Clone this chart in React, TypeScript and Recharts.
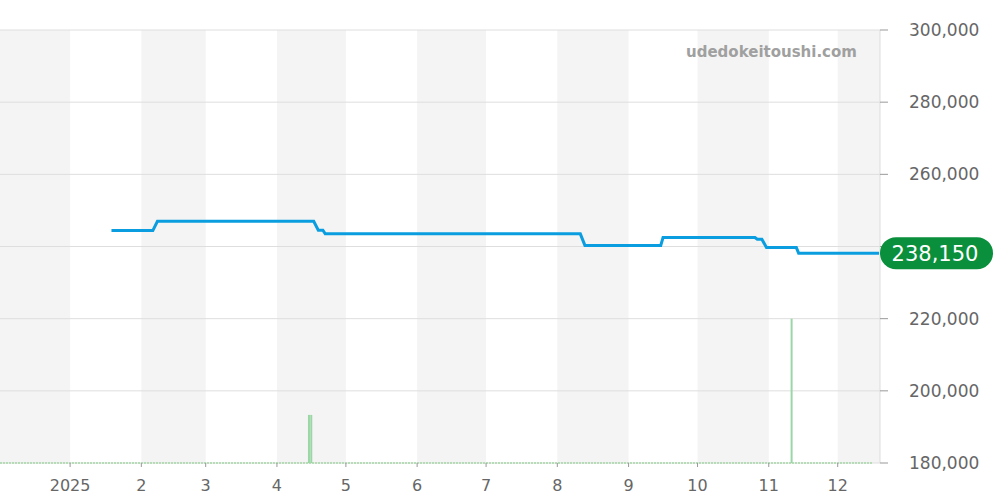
import React from "react";
import {
  ComposedChart,
  Line,
  Bar,
  XAxis,
  YAxis,
  CartesianGrid,
  ReferenceArea,
  ReferenceLine,
} from "recharts";

// ---- data ----
const priceDates = [
  "2025-01-19", "2025-02-06", "2025-02-08", "2025-04-17", "2025-04-19",
  "2025-04-21", "2025-04-22", "2025-08-11", "2025-08-13", "2025-09-15",
  "2025-09-16", "2025-10-26", "2025-10-27", "2025-10-29", "2025-10-31",
  "2025-11-13", "2025-11-14", "2025-12-19",
];
const prices = [
  244400, 244400, 247000, 247000, 244500,
  244500, 243500, 243500, 240300, 240300,
  242500, 242500, 242000, 242000, 239700,
  239700, 238150, 238150,
];
const volumeDates = ["2025-04-15", "2025-04-16", "2025-11-11"];
const volumes = [1, 1, 3];

const monthStarts = [
  "2025-01-01", "2025-02-01", "2025-03-01", "2025-04-01", "2025-05-01", "2025-06-01",
  "2025-07-01", "2025-08-01", "2025-09-01", "2025-10-01", "2025-11-01", "2025-12-01",
];
const monthLabels = ["2025", "2", "3", "4", "5", "6", "7", "8", "9", "10", "11", "12"];
const shadedMonths: [string, string][] = [
  ["2024-12-01", "2025-01-01"],
  ["2025-02-01", "2025-03-01"],
  ["2025-04-01", "2025-05-01"],
  ["2025-06-01", "2025-07-01"],
  ["2025-08-01", "2025-09-01"],
  ["2025-10-01", "2025-11-01"],
  ["2025-12-01", "2026-01-01"],
];
const yTicks = [180000, 200000, 220000, 240000, 260000, 280000, 300000];
const watermark = "udedokeitoushi.com";
const lastPrice = 238150;

// ---- helpers ----
const BASE = Date.UTC(2025, 0, 1);
const toDay = (s: string) => {
  const [y, m, d] = s.split("-").map(Number);
  return Math.round((Date.UTC(y, m - 1, d) - BASE) / 86400000);
};
const X_MIN = -30.5;
const X_MAX = 352.4;

const rowsMap = new Map<number, { d: number; price?: number; vol?: number }>();
priceDates.forEach((s, i) => {
  const d = toDay(s);
  rowsMap.set(d, { ...(rowsMap.get(d) || { d }), price: prices[i] });
});
volumeDates.forEach((s, i) => {
  const d = toDay(s);
  rowsMap.set(d, { ...(rowsMap.get(d) || { d }), vol: volumes[i] });
});
const data = Array.from(rowsMap.values()).sort((a, b) => a.d - b.d);

const xTicks = monthStarts.map(toDay);
const labelFor = (v: number) => {
  const i = xTicks.indexOf(v);
  return i >= 0 ? monthLabels[i] : "";
};

const fmt = (v: number) => v.toLocaleString("en-US");

const PriceBadge = (props: any) => {
  const vb = props.viewBox || {};
  const x = (vb.x || 0) + (vb.width || 0);
  const y = vb.y || 0;
  return (
    <g>
      <rect x={x} y={y - 16} width={113} height={32} rx={16} ry={16} fill="#0a8f3c" />
      <text
        x={x + 55}
        y={y}
        dy="0.36em"
        textAnchor="middle"
        fill="#ffffff"
        fontSize={21}
        fontFamily="DejaVu Sans"
      >
        {fmt(lastPrice)}
      </text>
    </g>
  );
};

export default function App() {
  return (
    <div
      style={{
        position: "absolute",
        left: 0,
        top: 0,
        width: 1000,
        height: 500,
        background: "#fff",
        fontFamily: "DejaVu Sans",
      }}
    >
      <ComposedChart
        width={1000}
        height={500}
        data={data}
        margin={{ top: 30, right: 0, bottom: 0, left: 0 }}
      >
        {shadedMonths.map(([a, b], i) => (
          <ReferenceArea
            key={i}
            x1={Math.max(toDay(a), X_MIN)}
            x2={Math.min(toDay(b), X_MAX)}
            yAxisId="price"
            fill="#f4f4f4"
            fillOpacity={1}
            stroke="none"
            ifOverflow="hidden"
            zIndex={-200}
          />
        ))}
        <CartesianGrid
          vertical={false}
          stroke="#dedede"
          yAxisId="price"
          zIndex={-150}
        />
        <XAxis
          dataKey="d"
          type="number"
          domain={[X_MIN, X_MAX]}
          allowDataOverflow
          ticks={xTicks}
          tickFormatter={labelFor}
          interval={0}
          height={37}
          axisLine={false}
          tickLine={{ stroke: "#999" }}
          tickSize={4}
          tickMargin={13}
          tick={{ fontSize: 16, fill: "#666", fontFamily: "DejaVu Sans" }}
        />
        <YAxis
          yAxisId="price"
          orientation="right"
          domain={[180000, 300000]}
          ticks={yTicks}
          tickFormatter={fmt}
          width={120}
          axisLine={{ stroke: "#dddddd" }}
          tickLine={{ stroke: "#999" }}
          tickSize={8}
          tickMargin={21}
          tick={{ fontSize: 17, fill: "#666", fontFamily: "DejaVu Sans" }}
        />
        <YAxis yAxisId="vol" hide domain={[0, 9]} />
        <ReferenceLine
          yAxisId="price"
          segment={[
            { x: X_MIN, y: 180000 },
            { x: 349, y: 180000 },
          ]}
          stroke="#a5d6a7"
          strokeWidth={1.5}
          strokeDasharray="2 1"
        />
        <Bar
          yAxisId="vol"
          dataKey="vol"
          fill="#9bd6a6"
          barSize={2}
          isAnimationActive={false}
        />
        <Line
          yAxisId="price"
          dataKey="price"
          type="linear"
          stroke="#0a9ee0"
          strokeWidth={3}
          dot={false}
          activeDot={false}
          connectNulls
          isAnimationActive={false}
        />
        <ReferenceLine
          yAxisId="price"
          y={lastPrice}
          stroke="none"
          zIndex={5000}
          label={{ content: <PriceBadge />, zIndex: 5000 } as any}
        />
      </ComposedChart>
      <div
        style={{
          position: "absolute",
          left: 686,
          top: 43,
          fontSize: 15,
          fontWeight: "bold",
          color: "#a0a0a0",
          lineHeight: "18px",
          whiteSpace: "nowrap",
        }}
      >
        {watermark}
      </div>
    </div>
  );
}
